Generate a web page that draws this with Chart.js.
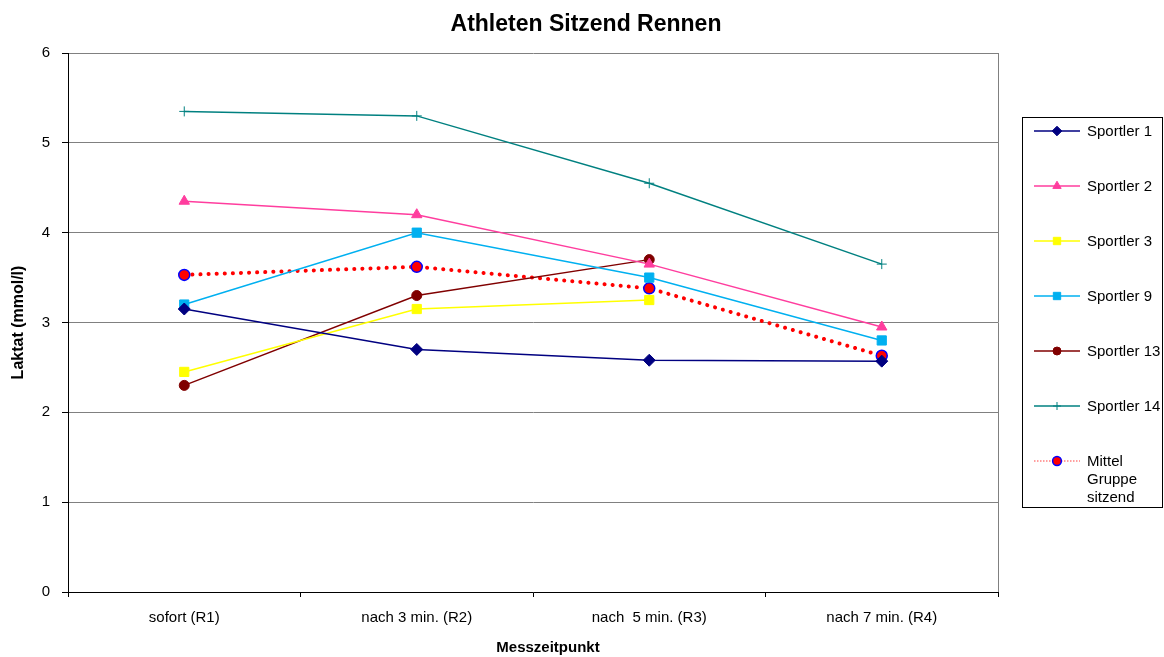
<!DOCTYPE html>
<html>
<head>
<meta charset="utf-8">
<script src="https://cdn.jsdelivr.net/npm/chart.js@4"></script>
<style>
  html, body { margin: 0; padding: 0; background: #fff; }
  #wrap { width: 1164px; height: 657px; }
</style>
</head>
<body>
<div id="wrap"><canvas id="laktatChart" width="1164" height="657"></canvas></div>
<script>
const zeitpunkte = ['sofort (R1)', 'nach 3 min. (R2)', 'nach  5 min. (R3)', 'nach 7 min. (R4)'];

const sportler1 = [3.15, 2.70, 2.58, 2.57];
const sportler2 = [4.35, 4.20, 3.65, 2.95];
const sportler3 = [2.45, 3.15, 3.25, null];
const sportler9 = [3.20, 4.00, 3.50, 2.80];
const sportler13 = [2.30, 3.30, 3.70, null];
const sportler14 = [5.35, 5.30, 4.55, 3.65];
const mittelGruppe = [3.53, 3.62, 3.38, 2.63];

const yTicks = [0, 1, 2, 3, 4, 5, 6];

const FONT = 'Liberation Sans, Arial, sans-serif';

function serie(label, data, color, style, radius) {
  return {
    label: label,
    data: data,
    borderColor: color,
    backgroundColor: color,
    borderWidth: 1.5,
    pointStyle: style,
    pointRadius: radius,
    pointHoverRadius: radius,
    pointBorderWidth: 1,
    tension: 0,
    fill: false,
    spanGaps: false
  };
}

const datasets = [
  serie('Sportler 1', sportler1, '#000080', 'rectRot', 6),
  serie('Sportler 2', sportler2, '#ff3d9e', 'triangle', 6),
  serie('Sportler 3', sportler3, '#ffff00', 'rect', 6.5),
  serie('Sportler 9', sportler9, '#00b0f0', 'rect', 6.5),
  serie('Sportler 13', sportler13, '#800000', 'circle', 5),
  serie('Sportler 14', sportler14, '#008080', 'cross', 5),
  {
    label: 'Mittel\nGruppe\nsitzend',
    data: mittelGruppe,
    borderColor: '#ff0000',
    backgroundColor: '#ff0000',
    borderWidth: 4,
    borderDash: [0.1, 8],
    borderCapStyle: 'round',
    pointStyle: 'circle',
    pointRadius: 5.5,
    pointHoverRadius: 5.5,
    pointBorderColor: '#0000ff',
    pointBorderWidth: 1.5,
    tension: 0,
    fill: false
  }
];

// titles, plot border and legend drawn by hand, Excel style
const excelParts = {
  id: 'excelParts',
  afterDraw(chart) {
    const c = chart.ctx;
    const a = chart.chartArea;
    c.save();

    c.fillStyle = '#000';
    c.textAlign = 'center';
    c.textBaseline = 'middle';
    c.font = 'bold 23px ' + FONT;
    c.fillText('Athleten Sitzend Rennen', 586, 25);
    c.font = 'bold 15px ' + FONT;
    c.fillText('Messzeitpunkt', 548, 648);

    // right border of the plot area
    c.strokeStyle = '#808080';
    c.lineWidth = 1;
    c.beginPath();
    c.moveTo(Math.round(a.right) + 0.5, a.top);
    c.lineTo(Math.round(a.right) + 0.5, a.bottom);
    c.stroke();

    c.strokeStyle = '#000';
    c.strokeRect(1022.5, 117.5, 140, 390);

    chart.data.datasets.forEach(function (ds, i) {
      const y = 131 + i * 55;
      c.save();
      c.strokeStyle = ds.borderColor;
      c.lineWidth = 1.5;
      if (i === 6) { c.setLineDash([1.5, 1.5]); c.strokeStyle = '#ff8080'; }
      c.beginPath();
      c.moveTo(1034, y);
      c.lineTo(1080, y);
      c.stroke();
      c.restore();
      c.save();
      c.fillStyle = ds.backgroundColor;
      c.strokeStyle = ds.pointBorderColor || ds.borderColor;
      c.lineWidth = ds.pointBorderWidth;
      Chart.helpers.drawPoint(c, {
        pointStyle: ds.pointStyle,
        radius: ds.pointRadius * 0.8,
        borderWidth: ds.pointBorderWidth,
        rotation: 0
      }, 1057, y);
      c.restore();
      c.fillStyle = '#000';
      c.font = '15px ' + FONT;
      c.textBaseline = 'middle';
      c.textAlign = 'left';
      ds.label.split('\n').forEach(function (line, k) {
        c.fillText(line, 1087, y + 1 + k * 18);
      });
    });
    c.restore();
  }
};

const ctx = document.getElementById('laktatChart').getContext('2d');

const laktatChart = new Chart(ctx, {
  type: 'line',
  data: {
    labels: zeitpunkte,
    datasets: datasets
  },
  plugins: [excelParts],
  options: {
    responsive: false,
    animation: false,
    layout: {
      padding: { left: 0, right: 166, top: 53, bottom: 0 }
    },
    scales: {
      x: {
        offset: true,
        grid: {
          offset: true,
          drawOnChartArea: false,
          color: '#000',
          tickLength: 5
        },
        border: { color: '#000', width: 1 },
        ticks: {
          color: '#000',
          font: { family: FONT, size: 15 },
          padding: 12,
          maxRotation: 0
        },
        afterFit(scale) { scale.height = 65; }
      },
      y: {
        min: 0,
        max: 6,
        afterBuildTicks(scale) {
          scale.ticks = yTicks.map(function (v) { return { value: v }; });
        },
        grid: {
          color: '#808080',
          tickColor: '#000',
          tickLength: 6,
          lineWidth: 1
        },
        border: { color: '#000', width: 1 },
        ticks: {
          color: '#000',
          font: { family: FONT, size: 15 },
          padding: 12
        },
        title: {
          display: true,
          text: 'Laktat (mmol/l)',
          color: '#000',
          font: { family: FONT, size: 16, weight: 'bold' },
          padding: { top: 9, bottom: 4 }
        },
        afterFit(scale) { scale.width = 68; }
      }
    },
    plugins: {
      legend: { display: false },
      tooltip: { enabled: false },
      title: { display: false }
    }
  }
});
</script>
</body>
</html>
